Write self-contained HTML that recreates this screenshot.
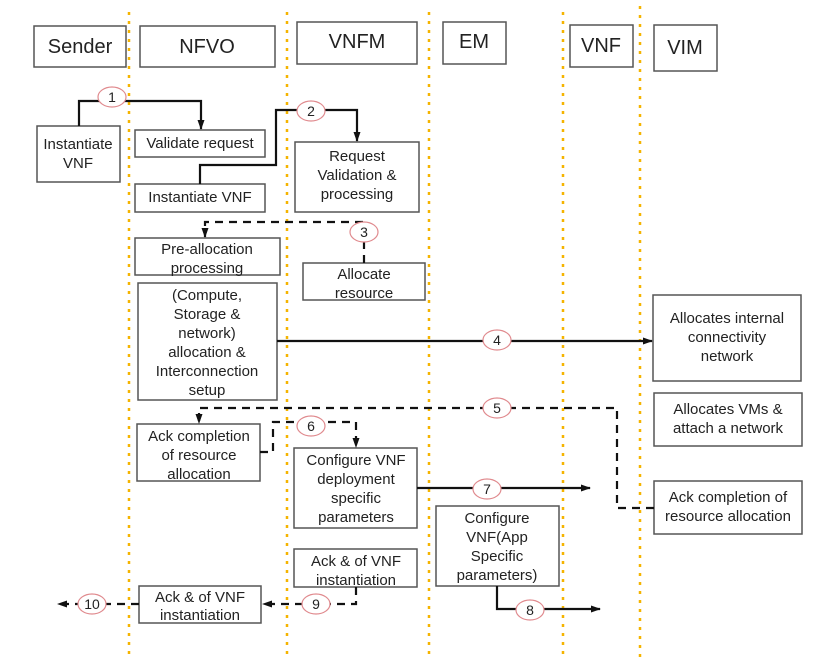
<!DOCTYPE html>
<html><head><meta charset="utf-8"><style>
body{margin:0;background:#fff}
svg{display:block;font-family:"Liberation Sans",sans-serif}
</style></head><body>
<svg width="820" height="669" viewBox="0 0 820 669">
<defs><marker id="a" markerWidth="10" markerHeight="10" refX="9" refY="5" orient="auto" markerUnits="userSpaceOnUse"><path d="M0,1.5 L10,5 L0,8.5z" fill="#111"/></marker></defs>
<g stroke="#f5b400" stroke-width="2.5" stroke-dasharray="3,6">
<line x1="129" y1="12" x2="129" y2="660"/><line x1="287" y1="12" x2="287" y2="660"/><line x1="429" y1="12" x2="429" y2="660"/><line x1="563" y1="12" x2="563" y2="660"/><line x1="640" y1="6" x2="640" y2="660"/>
</g>
<g fill="#fff" stroke="#555" stroke-width="1.5">
<rect x="34" y="26" width="92" height="41"/><rect x="140" y="26" width="135" height="41"/><rect x="297" y="22" width="120" height="42"/><rect x="443" y="22" width="63" height="42"/><rect x="570" y="25" width="63" height="42"/><rect x="654" y="25" width="63" height="46"/>
<rect x="37" y="126" width="83" height="56"/><rect x="135" y="130" width="130" height="27"/><rect x="135" y="184" width="130" height="28"/><rect x="295" y="142" width="124" height="70"/>
<rect x="135" y="238" width="145" height="37"/><rect x="303" y="263" width="122" height="37"/><rect x="138" y="283" width="139" height="117"/>
<rect x="653" y="295" width="148" height="86"/><rect x="654" y="393" width="148" height="53"/><rect x="654" y="481" width="148" height="53"/>
<rect x="137" y="424" width="123" height="57"/><rect x="294" y="448" width="123" height="80"/><rect x="436" y="506" width="123" height="80"/>
<rect x="294" y="549" width="123" height="38"/><rect x="139" y="586" width="122" height="37"/>
</g>
<g fill="none" stroke="#111" stroke-width="2.2">
<path d="M79,126V101H201V129" marker-end="url(#a)"/>
<path d="M200,184V165H276V110H357V141" marker-end="url(#a)"/>
<path d="M277,341H652" marker-end="url(#a)"/>
<path d="M417,488H590" marker-end="url(#a)"/>
<path d="M497,586V609H600" marker-end="url(#a)"/>
</g>
<g fill="none" stroke="#111" stroke-width="2.2" stroke-dasharray="8,6">
<path d="M364,263V222H205V237" marker-end="url(#a)"/>
<path d="M654,508H617V408H199V423" marker-end="url(#a)"/>
<path d="M260,452H273V422H356V447" marker-end="url(#a)"/>
<path d="M356,587V604H263" marker-end="url(#a)"/>
<path d="M139,604H58" marker-end="url(#a)"/>
</g>
<g fill="#fff" stroke="#e08a8e" stroke-width="1.2">
<ellipse cx="112" cy="97" rx="14" ry="10"/><ellipse cx="311" cy="111" rx="14" ry="10"/><ellipse cx="364" cy="232" rx="14" ry="10"/><ellipse cx="497" cy="340" rx="14" ry="10"/><ellipse cx="497" cy="408" rx="14" ry="10"/><ellipse cx="311" cy="426" rx="14" ry="10"/><ellipse cx="487" cy="489" rx="14" ry="10"/><ellipse cx="530" cy="610" rx="14" ry="10"/><ellipse cx="316" cy="604" rx="14" ry="10"/><ellipse cx="92" cy="604" rx="14" ry="10"/>
</g>
<g font-size="14" text-anchor="middle" fill="#222">
<text x="112" y="102">1</text><text x="311" y="116">2</text><text x="364" y="237">3</text><text x="497" y="345">4</text><text x="497" y="413">5</text><text x="311" y="431">6</text><text x="487" y="494">7</text><text x="530" y="615">8</text><text x="316" y="609">9</text><text x="92" y="609">10</text>
</g>
<g font-size="20" text-anchor="middle" fill="#222">
<text x="80" y="53">Sender</text><text x="207" y="53">NFVO</text><text x="357" y="48">VNFM</text><text x="474" y="48">EM</text><text x="601" y="52">VNF</text><text x="685" y="54">VIM</text>
</g>
<g font-size="15" text-anchor="middle" fill="#222">
<text x="78" y="149">Instantiate</text><text x="78" y="168">VNF</text>
<text x="200" y="148">Validate request</text>
<text x="200" y="202">Instantiate VNF</text>
<text x="357" y="161">Request</text><text x="357" y="180">Validation &amp;</text><text x="357" y="199">processing</text>
<text x="207" y="254">Pre-allocation</text><text x="207" y="273">processing</text>
<text x="364" y="279">Allocate</text><text x="364" y="298">resource</text>
<text x="207" y="300">(Compute,</text><text x="207" y="319">Storage &amp;</text><text x="207" y="338">network)</text><text x="207" y="357">allocation &amp;</text><text x="207" y="376">Interconnection</text><text x="207" y="395">setup</text>
<text x="727" y="323">Allocates internal</text><text x="727" y="342">connectivity</text><text x="727" y="361">network</text>
<text x="728" y="414">Allocates VMs &amp;</text><text x="728" y="433">attach a network</text>
<text x="728" y="502">Ack completion of</text><text x="728" y="521">resource allocation</text>
<text x="199" y="441">Ack completion</text><text x="199" y="460">of resource</text><text x="199" y="479">allocation</text>
<text x="356" y="465">Configure VNF</text><text x="356" y="484">deployment</text><text x="356" y="503">specific</text><text x="356" y="522">parameters</text>
<text x="497" y="523">Configure</text><text x="497" y="542">VNF(App</text><text x="497" y="561">Specific</text><text x="497" y="580">parameters)</text>
<text x="356" y="566">Ack &amp; of VNF</text><text x="356" y="585">instantiation</text>
<text x="200" y="602">Ack &amp; of VNF</text><text x="200" y="620">instantiation</text>
</g>
</svg>
</body></html>
